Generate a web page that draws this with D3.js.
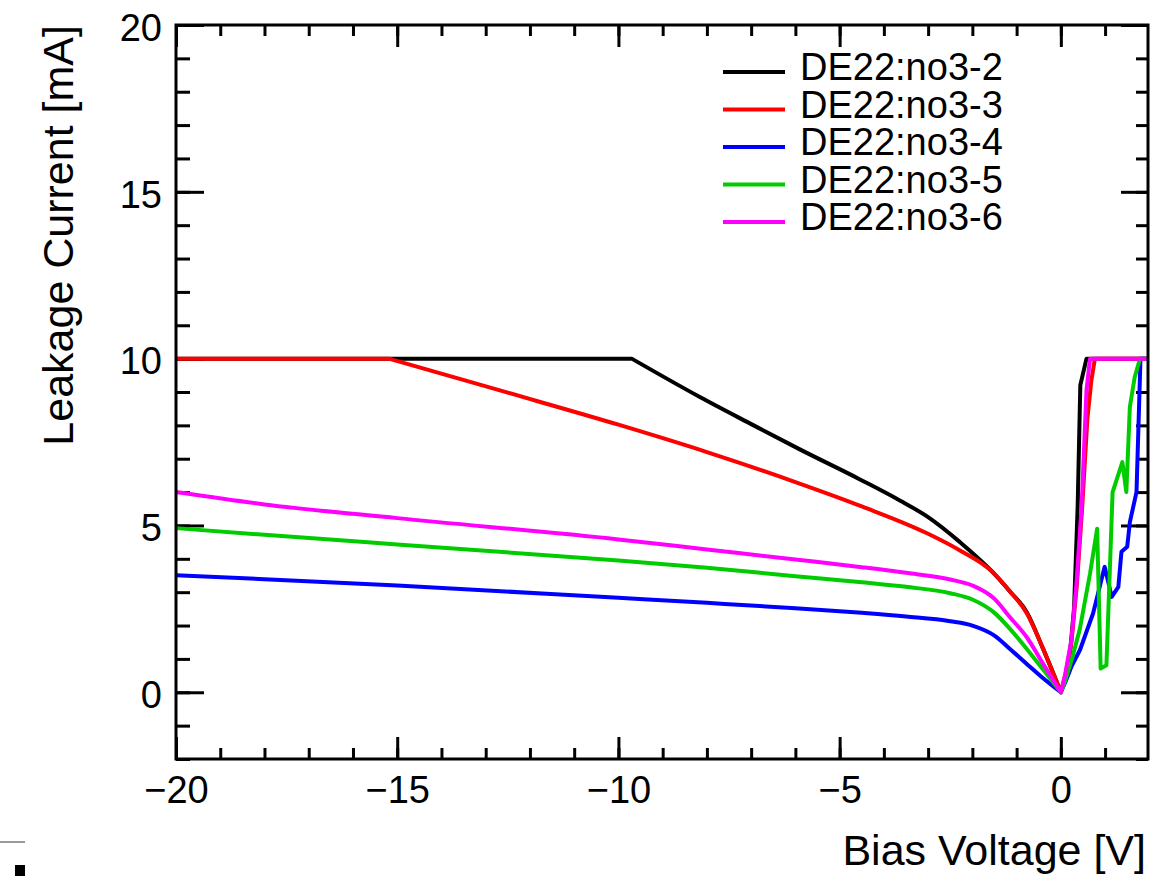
<!DOCTYPE html>
<html>
<head>
<meta charset="utf-8">
<script src="https://cdn.jsdelivr.net/npm/d3@7"></script>
<style>
  body { margin: 0; background: #fff; }
  svg { display: block; font-family: "Liberation Sans", Arial, Helvetica, sans-serif; }
  .tick line { stroke: #000; stroke-width: 3; }
  .tick text { fill: #000; font-size: 38px; }
</style>
</head>
<body>
<div id="chart"></div>
<script>
// I-V scans (bias in V, current in mA); 10 mA is the compliance limit
const biasNo3_2 = [-20, -9.7, -8.16, -7.03, -5.9, -4.54, -3.64, -3, -2.28, -1.54, -1.15, -0.77, -0.4, 0, 0.1, 0.2, 0.3, 0.38, 0.44, 0.58, 1.97];
const leakNo3_2 = [10, 10, 8.85, 8.06, 7.28, 6.38, 5.75, 5.25, 4.5, 3.6, 3.02, 2.4, 1.3, 0, 0.45, 1.06, 2.55, 5.56, 9.2, 10, 10];

const biasNo3_3 = [-20, -15.19, -12.5, -10, -8, -6, -4.5, -3, -2.28, -1.54, -1.15, -0.77, -0.4, 0, 0.1, 0.24, 0.36, 0.48, 0.6, 0.69, 0.77, 1.97];
const leakNo3_3 = [10, 10, 8.98, 8.02, 7.2, 6.3, 5.57, 4.75, 4.25, 3.6, 3.02, 2.37, 1.3, 0, 0.5, 1.5, 3.2, 5.5, 8.2, 9.35, 10, 10];

const biasNo3_4 = [-20, -18, -15, -10, -8, -6, -4.5, -3.5, -2.5, -2, -1.5, -1.15, -0.77, -0.4, 0, 0.1, 0.25, 0.43, 0.73, 0.99, 1.15, 1.3, 1.37, 1.5, 1.56, 1.71, 1.8, 1.97];
const leakNo3_4 = [3.51, 3.39, 3.2, 2.83, 2.68, 2.52, 2.38, 2.27, 2.13, 2.0, 1.7, 1.3, 0.85, 0.42, 0, 0.3, 0.8, 1.26, 2.37, 3.76, 2.86, 3.16, 4.21, 4.36, 5.1, 6.0, 10, 10];

const biasNo3_5 = [-20, -18, -15, -10, -8, -6, -4.5, -3.5, -2.5, -2, -1.5, -1.15, -0.77, -0.4, 0, 0.1, 0.25, 0.43, 0.66, 0.82, 0.9, 1.03, 1.17, 1.39, 1.48, 1.56, 1.67, 1.79, 1.97];
const leakNo3_5 = [4.92, 4.72, 4.43, 3.95, 3.73, 3.48, 3.3, 3.16, 2.97, 2.78, 2.38, 1.9, 1.3, 0.68, 0, 0.35, 1.0, 1.9, 3.56, 4.9, 0.71, 0.81, 6.0, 6.9, 6.0, 8.55, 9.45, 10, 10];

const biasNo3_6 = [-20, -18, -15, -10, -8, -6, -4.5, -3.5, -2.5, -2, -1.5, -1.15, -0.77, -0.4, 0, 0.1, 0.24, 0.35, 0.47, 0.58, 0.66, 1.97];
const leakNo3_6 = [6.0, 5.63, 5.22, 4.58, 4.28, 3.98, 3.75, 3.58, 3.38, 3.2, 2.8, 2.25, 1.65, 0.85, 0, 0.55, 1.58, 3.2, 5.56, 9.06, 10, 10];

const seriesNames = ["DE22:no3-2", "DE22:no3-3", "DE22:no3-4", "DE22:no3-5", "DE22:no3-6"];
const seriesBias = [biasNo3_2, biasNo3_3, biasNo3_4, biasNo3_5, biasNo3_6];
const seriesLeak = [leakNo3_2, leakNo3_3, leakNo3_4, leakNo3_5, leakNo3_6];
const seriesColors = ["#000000", "#ff0000", "#0000ff", "#00cc00", "#ff00ff"];

const xMajorTicks = [-20, -15, -10, -5, 0];
const yMajorTicks = [0, 5, 10, 15, 20];
const xMinorTicks = d3.range(-20, 2, 1);
const yMinorTicks = d3.range(-2, 21, 1);

// frame geometry
const margin = {top: 25, right: 6, bottom: 117, left: 176},
    width = 1154 - margin.left - margin.right,
    height = 876 - margin.top - margin.bottom;

const root = d3.select("#chart")
  .append("svg")
    .attr("width", 1154)
    .attr("height", 876);

const svg = root.append("g")
    .attr("transform", `translate(${margin.left}, ${margin.top})`);

const x = d3.scaleLinear().domain([-20, 1.97]).range([0, width]);
const y = d3.scaleLinear().domain([-2, 20]).range([height, 0]);

// ticks point inwards on all four sides
function addAxis(axis, transform) {
  const g = svg.append("g").attr("transform", transform).call(axis);
  g.select(".domain").remove();
  return g;
}

addAxis(d3.axisBottom(x).tickValues(xMinorTicks).tickSizeInner(-11).tickSizeOuter(0).tickFormat(""), `translate(0, ${height})`);
addAxis(d3.axisBottom(x).tickValues(xMajorTicks).tickSizeInner(-22).tickSizeOuter(0).tickPadding(17).tickFormat(d3.format("d")), `translate(0, ${height})`);
addAxis(d3.axisTop(x).tickValues(xMinorTicks).tickSizeInner(-11).tickSizeOuter(0).tickFormat(""), "translate(0, 0)");
addAxis(d3.axisTop(x).tickValues(xMajorTicks).tickSizeInner(-22).tickSizeOuter(0).tickFormat(""), "translate(0, 0)");

addAxis(d3.axisLeft(y).tickValues(yMinorTicks).tickSizeInner(-14).tickSizeOuter(0).tickFormat(""), "translate(0, 0)");
addAxis(d3.axisLeft(y).tickValues(yMajorTicks).tickSizeInner(-28).tickSizeOuter(0).tickPadding(14).tickFormat(d3.format("d")), "translate(0, 0)")
  .selectAll("text").attr("dy", "0.4em");
addAxis(d3.axisRight(y).tickValues(yMinorTicks).tickSizeInner(-12).tickSizeOuter(0).tickFormat(""), `translate(${width}, 0)`);
addAxis(d3.axisRight(y).tickValues(yMajorTicks).tickSizeInner(-27).tickSizeOuter(0).tickFormat(""), `translate(${width}, 0)`);

svg.selectAll(".tick text").attr("font-family", "Liberation Sans, Arial, sans-serif");

// compliance plateau and forward part stay straight, the reverse bend is smoothed
const smoothLine = d3.line()
  .x(d => x(d[0]))
  .y(d => y(d[1]))
  .curve(d3.curveMonotoneX);
const sharpLine = d3.line()
  .x(d => x(d[0]))
  .y(d => y(d[1]));

seriesNames.forEach((name, i) => {
  const pts = seriesBias[i].map((v, j) => [v, seriesLeak[i][j]]);
  let k = 0;
  while (k + 1 < pts.length && pts[k + 1][1] >= 10 && pts[k + 1][0] < 0) k++;
  const flat = pts.slice(0, k + 1);
  const bend = pts.filter((d, j) => j >= k && d[0] <= 0);
  const fwd = pts.filter(d => d[0] >= 0);
  let path = "";
  if (flat.length > 1) path += sharpLine(flat);
  path += path ? smoothLine(bend).replace(/^M/, "L") : smoothLine(bend);
  path += sharpLine(fwd).replace(/^M/, "L");
  svg.append("path")
    .attr("fill", "none")
    .attr("stroke", seriesColors[i])
    .attr("stroke-width", 4)
    .attr("stroke-linejoin", "round")
    .attr("d", path);
});

// frame
svg.append("rect")
  .attr("x", 0).attr("y", 0)
  .attr("width", width).attr("height", height)
  .attr("fill", "none")
  .attr("stroke", "#000")
  .attr("stroke-width", 3);

// legend
const legend = root.append("g").attr("transform", "translate(723, 72)");
seriesNames.forEach((name, i) => {
  const ly = i * 37.5;
  legend.append("line")
    .attr("x1", 0).attr("x2", 62)
    .attr("y1", ly).attr("y2", ly)
    .attr("stroke", seriesColors[i])
    .attr("stroke-width", 4);
  legend.append("text")
    .attr("x", 77).attr("y", ly + 8)
    .attr("font-size", 38)
    .text(name);
});

// axis titles
root.append("text")
  .attr("text-anchor", "end")
  .attr("x", 1146)
  .attr("y", 865)
  .attr("font-size", 43)
  .text("Bias Voltage [V]");

root.append("text")
  .attr("text-anchor", "end")
  .attr("transform", "translate(73, 25) rotate(-90)")
  .attr("font-size", 43)
  .text("Leakage Current [mA]");

// stray marks left over at the bottom-left corner of the scan
root.append("line")
  .attr("x1", 0).attr("x2", 25).attr("y1", 842).attr("y2", 842)
  .attr("stroke", "#777").attr("stroke-width", 1.5);
root.append("rect")
  .attr("x", 15).attr("y", 865).attr("width", 10).attr("height", 11)
  .attr("fill", "#000");
</script>
</body>
</html>
